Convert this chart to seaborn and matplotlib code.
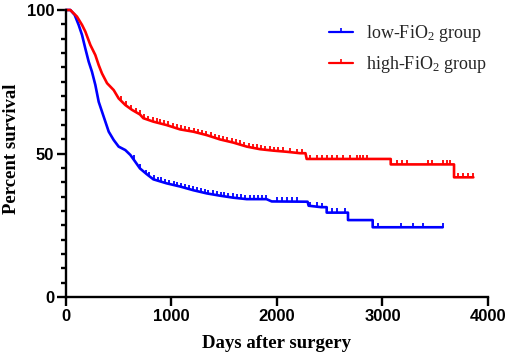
import numpy as np
import pandas as pd
import matplotlib
matplotlib.use("Agg")
import matplotlib.pyplot as plt
from matplotlib.path import Path
from matplotlib.lines import Line2D
import seaborn as sns

# ---- data; repeated days mark a vertical drop ----
low_days = [0, 41, 82, 120, 152, 183, 215, 246, 278, 310, 341, 373, 405, 452, 499,
            562, 610, 657, 701, 765, 828, 954, 1081, 1207, 1334, 1460, 1586, 1713,
            1900, 1950, 2290, 2300, 2420, 2471, 2471, 2673, 2673, 2907, 2907, 3571]
low_surv = [100, 100, 98.3, 94.8, 91.3, 86.6, 82.0, 78.5, 73.9, 68.0, 64.6, 61.1,
            57.6, 54.7, 52.4, 51.2, 49.5, 47.1, 44.8, 42.8, 41.0, 39.6, 38.5, 37.2,
            36.1, 35.3, 34.6, 34.1, 34.1, 33.3, 33.2, 31.8, 31.3, 31.3, 29.4, 29.4,
            26.8, 26.8, 24.3, 24.3]

high_days = [0, 41, 104, 152, 183, 231, 278, 310, 341, 389, 452, 499, 562, 626, 701,
             733, 828, 954, 1081, 1207, 1334, 1460, 1586, 1713, 1839, 1965, 2092, 2218,
             2270, 2281, 3078, 3078, 3678, 3678, 3861]
high_surv = [100, 100, 97.7, 94.8, 92.5, 87.8, 84.3, 80.8, 77.9, 74.5, 72.1, 69.2,
             66.9, 65.2, 63.6, 62.3, 61.1, 59.9, 58.4, 57.6, 56.4, 54.9, 53.8, 52.4,
             51.5, 51.0, 50.6, 50.1, 50.1, 48.1, 48.1, 46.2, 46.2, 41.7, 41.7]

# censored observations (days)
low_cens = [640, 700, 760, 790, 830, 870, 900, 940, 980, 1020, 1050, 1090, 1130, 1170,
            1200, 1240, 1280, 1320, 1350, 1390, 1430, 1470, 1500, 1540, 1580, 1620,
            1660, 1700, 1740, 1780, 1820, 1860, 1900, 1997, 2044, 2092, 2139, 2187,
            2313, 2376, 2423, 2518, 2566, 2645, 2676, 2960, 3172, 3292, 3386, 3570]
high_cens = [520, 570, 620, 660, 700, 740, 780, 820, 860, 890, 930, 970, 1010, 1050,
             1090, 1130, 1170, 1210, 1250, 1290, 1330, 1370, 1410, 1450, 1490, 1530,
             1570, 1610, 1650, 1690, 1730, 1770, 1810, 1850, 1890, 1930, 1970, 2010,
             2060, 2120, 2187, 2240, 2313, 2376, 2423, 2471, 2518, 2566, 2629, 2692,
             2755, 2787, 2818, 2850, 3134, 3182, 3229, 3434, 3466, 3576, 3608, 3640,
             3719, 3766, 3814, 3861]

BLUE = "#0000ff"
RED = "#ff0000"

low_df = pd.DataFrame({"day": low_days, "surv": low_surv})
high_df = pd.DataFrame({"day": high_days, "surv": high_surv})
# censor marks sit on the curve at their day
low_c = pd.DataFrame({"day": low_cens,
                      "surv": np.interp(low_cens, low_days, low_surv)})
high_c = pd.DataFrame({"day": high_cens,
                       "surv": np.interp(high_cens, high_days, high_surv)})

sns.set_style("ticks")
plt.rcParams["mathtext.fontset"] = "custom"
plt.rcParams["mathtext.rm"] = "Liberation Serif"
plt.rcParams["mathtext.it"] = "Liberation Serif:italic"

fig = plt.figure(figsize=(5.10, 3.61), dpi=100)
ax = fig.add_axes([66 / 510, 1 - 297 / 361, (488 - 66) / 510, (297 - 10) / 361])

tick_marker = Path([(0, 0), (0, 1)], [Path.MOVETO, Path.LINETO])

for df, cdf, col in [(low_df, low_c, BLUE), (high_df, high_c, RED)]:
    sns.lineplot(data=df, x="day", y="surv", ax=ax, color=col, lw=1.9,
                 estimator=None, sort=False, clip_on=False)
    sns.scatterplot(data=cdf, x="day", y="surv", ax=ax, marker=tick_marker, s=36,
                    facecolor="none", edgecolor=col, linewidth=1.3, clip_on=False,
                    zorder=3)

ax.set_xlim(0, 4000)
ax.set_ylim(0, 100)
ax.set_xticks([0, 1000, 2000, 3000, 4000])
ax.set_yticks([0, 50, 100])
ax.set_yticks(np.arange(5, 100, 5), minor=True)

for s in ["top", "right"]:
    ax.spines[s].set_visible(False)
for s in ["left", "bottom"]:
    ax.spines[s].set_linewidth(1.7)
    ax.spines[s].set_color("black")

ax.tick_params(axis="both", which="major", length=6.5, width=1.7, color="black",
               direction="out", pad=2)
ax.tick_params(axis="y", which="minor", length=3.5, width=1.7, color="black",
               direction="out")
ax.tick_params(axis="x", which="minor", length=0)

for lab in ax.get_xticklabels() + ax.get_yticklabels():
    lab.set_fontfamily("Liberation Sans")
    lab.set_fontweight("bold")
    lab.set_fontsize(12)
    lab.set_color("black")

ax.set_xlabel("Days after surgery", fontfamily="Liberation Serif", fontweight="bold",
              fontsize=13.5, color="black", labelpad=8)
ax.set_ylabel("Percent survival", fontfamily="Liberation Serif", fontweight="bold",
              fontsize=13.5, color="black")
ax.yaxis.set_label_coords(-0.108, 0.515)

handles = [Line2D([0], [0], color=BLUE, lw=1.6, marker=tick_marker, markersize=6,
                  markeredgewidth=1.2),
           Line2D([0], [0], color=RED, lw=1.6, marker=tick_marker, markersize=6,
                  markeredgewidth=1.2)]
leg = ax.legend(handles, ["low-FiO$_2$ group", "high-FiO$_2$ group"],
                loc="upper left", bbox_to_anchor=(329 / 510, 1 - 23 / 361),
                bbox_transform=fig.transFigure, frameon=False, numpoints=1,
                handlelength=1.35, handletextpad=0.7, labelspacing=0.55,
                borderpad=0, borderaxespad=0,
                prop={"family": "Liberation Serif", "size": 13})

fig.savefig("out.png", dpi=100)
